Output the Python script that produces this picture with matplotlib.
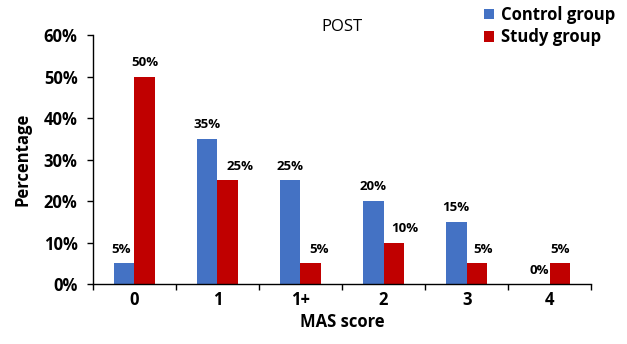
import matplotlib
matplotlib.use("Agg")
import matplotlib.pyplot as plt
import numpy as np
from matplotlib.ticker import PercentFormatter

categories = ["0", "1", "1+", "2", "3", "4"]
control = [5, 35, 25, 20, 15, 0]
study = [50, 25, 5, 10, 5, 5]
y_ticks = [0, 10, 20, 30, 40, 50, 60]

# horizontal nudges (points) for study-group labels sitting beside taller bars
study_label_dx = [0, 9, 6, 8, 4, 0]
control_label_dx = [-2, 0, 0, 0, 0, 0]

plt.rcParams['font.family'] = ['Open Sans', 'DejaVu Sans']

fig = plt.figure(figsize=(6.27, 3.44), dpi=100)
ax = fig.add_axes([0.148, 0.174, 0.795, 0.724])

x = np.arange(len(categories))
w = 0.25
b1 = ax.bar(x - w / 2, control, w, color="#4472C4", label="Control group")
b2 = ax.bar(x + w / 2, study, w, color="#C00000", label="Study group")

for bars, vals, dxs in ((b1, control, control_label_dx), (b2, study, study_label_dx)):
    for rect, v, dx in zip(bars, vals, dxs):
        ax.annotate(f"{v}%", (rect.get_x() + rect.get_width() / 2, v),
                    xytext=(dx, 5.5), textcoords="offset points",
                    ha="center", va="bottom", fontsize=9.5, fontweight="bold")

ax.set_xlim(-0.5, len(categories) - 0.5)
ax.set_ylim(0, 60)
ax.set_yticks(y_ticks)
ax.yaxis.set_major_formatter(PercentFormatter(decimals=0))
ax.set_xticks(x)
ax.set_xticklabels(categories)
ax.set_xticks(np.arange(-0.5, len(categories)), minor=True)
ax.tick_params(axis="x", which="major", length=0, pad=5)
ax.tick_params(axis="x", which="minor", length=4, width=1)
ax.tick_params(axis="y", length=4, width=1, pad=7)
for lab in ax.get_xticklabels() + ax.get_yticklabels():
    lab.set_fontweight("bold")
    lab.set_fontsize(12)

for s in ("top", "right"):
    ax.spines[s].set_visible(False)
for s in ("left", "bottom"):
    ax.spines[s].set_linewidth(1)

ax.set_xlabel("MAS score", fontsize=12, fontweight="bold", labelpad=3)
ax.set_ylabel("Percentage", fontsize=12, fontweight="bold", labelpad=9)
ax.set_title("POST", fontsize=12, pad=1)

leg = fig.legend(handles=[b1, b2], loc="upper left",
                 bbox_to_anchor=(484 / 627, 1 - 6 / 344), frameon=False,
                 prop={"weight": "bold", "size": 12}, handlelength=0.6,
                 handleheight=0.6, handletextpad=0.4, labelspacing=0.25,
                 borderpad=0.0, borderaxespad=0.0)

fig.savefig("out.png", dpi=100)
